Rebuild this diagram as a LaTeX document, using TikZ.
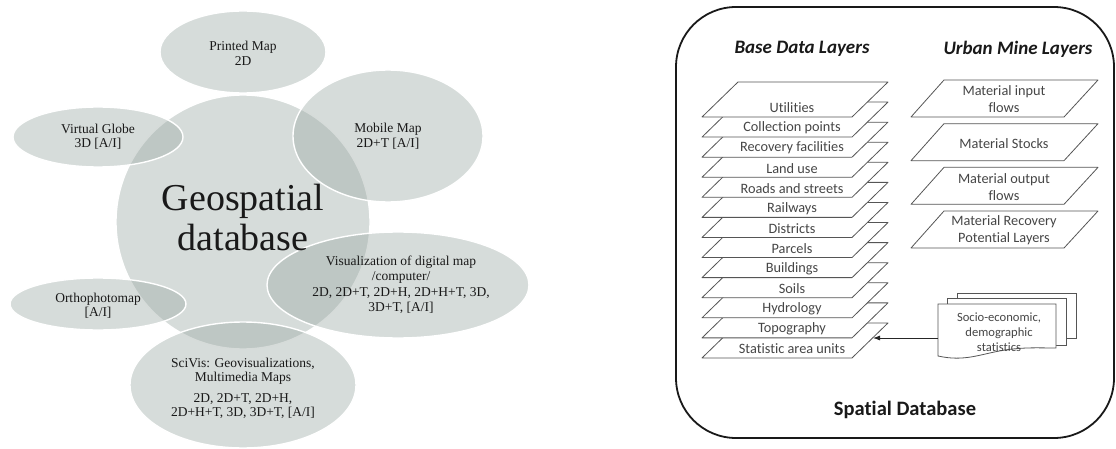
\documentclass[tikz,border=0pt]{standalone}
\usepackage{fontspec}
\setmainfont{Liberation Serif}
\newfontfamily\calibri[Ligatures=NoCommon]{Carlito}
\usetikzlibrary{shapes.geometric,arrows.meta}

\definecolor{bubblefill}{RGB}{153,167,162}
\definecolor{serifink}{RGB}{25,25,25}
\definecolor{layerink}{RGB}{70,70,70}
\definecolor{layerline}{RGB}{85,85,85}
\definecolor{frameink}{RGB}{25,25,25}

\begin{document}
\begin{tikzpicture}[x=1pt,y=-1pt,
  bubble/.style={ellipse, draw=white, line width=1.4pt, fill=bubblefill,
    fill opacity=0.4, draw opacity=1, inner sep=0pt, outer sep=0pt},
  smalltext/.style={font=\fontsize{13.5}{14.5}\selectfont, text=serifink,
    align=center, inner sep=0pt},
  bigtext/.style={font=\fontsize{38}{40}\selectfont, text=serifink,
    align=center, inner sep=0pt},
  layer/.style={draw=layerline, fill=white, line width=0.8pt, line join=round},
  layertext/.style={font=\calibri\fontsize{14.3}{17}\selectfont, text=layerink,
    align=center, inner sep=0pt},
  heading/.style={font=\calibri\bfseries\itshape\fontsize{19}{22}\selectfont,
    text=serifink, inner sep=0pt},
  page/.style={draw=layerline, fill=white, line width=0.8pt},
]
\useasboundingbox (0,0) rectangle (1116,449);

% ---------- Geospatial database and its visualisation forms ----------
\node[bubble, minimum width=254pt, minimum height=254pt] (geo) at (243,222) {};
\node[bubble, minimum width=166pt, minimum height=82pt]  (printed) at (243,52) {};
\node[bubble, minimum width=170pt, minimum height=60pt]  (globe) at (98,137) {};
\node[bubble, minimum width=190pt, minimum height=132pt] (mobile) at (388,136) {};
\node[bubble, minimum width=176pt, minimum height=52pt]  (ortho) at (98,304) {};
\node[bubble, minimum width=262pt, minimum height=106pt] (digital) at (398,285) {};
\node[bubble, minimum width=226pt, minimum height=126pt] (scivis) at (243,385) {};

\node[bigtext] (geoT) at (243,218) {Geospatial\\database};
\node[smalltext] (printedT) at (243,53.5) {Printed Map\\2D};
\node[smalltext] (globeT) at (98,136.5) {Virtual Globe\\3D [A/I]};
\node[smalltext] (mobileT) at (388,136) {Mobile Map\\2D+T [A/I]};
\node[smalltext] (orthoT) at (98,305.5) {Orthophotomap\\{}[A/I]};
\node[smalltext] (digitalT) at (401,285) {Visualization of digital map\\/computer/\\[2pt]
  2D, 2D+T, 2D+H, 2D+H+T, 3D,\\3D+T, [A/I]};
\node[smalltext] (scivisT) at (243,388.5) {SciVis: Geovisualizations,\\Multimedia Maps\\[6pt]
  2D, 2D+T, 2D+H,\\2D+H+T, 3D, 3D+T, [A/I]};

% ---------- Spatial database frame ----------
\draw[frameink, line width=1.8pt, rounded corners=60pt] (676,7) rectangle (1114,438);

\node[heading] (baseH) at (802,49) {Base Data Layers};
\node[heading] (urbanH) at (1018,49) {Urban Mine Layers};
\node[font=\calibri\bfseries\fontsize{20.5}{24}\selectfont, text=serifink, inner sep=0pt]
  (spatialH) at (905,410) {Spatial Database};

% base data layers: the lowest sheet first, each upper sheet laid over the one below
\foreach \i/\lbl in {12/Statistic area units, 11/Topography, 10/Hydrology, 9/Soils,
    8/Buildings, 7/Parcels, 6/Districts, 5/Railways, 4/Roads and streets,
    3/Land use, 2/Recovery facilities, 1/Collection points, 0/Utilities} {
  \pgfmathsetmacro\b{117+20.08*\i}
  \draw[layer] (702,\b) -- (852,\b) -- (888,\b-35) -- (738,\b-35) -- cycle;
  \node[layertext] (base\i) at (792,\b-9) {\lbl};
}

% urban mine layers
\foreach \txt [count=\i from 0] in {{Material input\\flows}, {Material Stocks},
    {Material output\\flows}, {Material Recovery\\Potential Layers}} {
  \pgfmathsetmacro\t{80+43.67*\i}
  \draw[layer] (911,\t+37) -- (1064,\t+37) -- (1098,\t) -- (944,\t) -- cycle;
  \node[layertext] (urban\i) at (1004,\t+19.5) {\txt};
}

% socio-economic document stack
\draw[page] (957,293) rectangle (1076,338);
\draw[page] (947,298) rectangle (1066,345);
\draw[page] (938,304) -- (1056,304) -- (1056,348)
  .. controls (1040,348) and (1025,347) .. (1005,350)
  .. controls (980,354) and (965,362) .. (938,356) -- cycle;
\node[layertext, font=\calibri\fontsize{12.6}{14.8}\selectfont] (stats) at (999,332)
  {Socio-economic,\\demographic\\statistics};

\coordinate (statsin) at (938,338);
\coordinate (unitsedge) at (873,338);
\draw[draw=black!85, line width=0.8pt, -{Latex[length=7pt,width=5pt]}] (statsin) -- (unitsedge);
\end{tikzpicture}
\end{document}
